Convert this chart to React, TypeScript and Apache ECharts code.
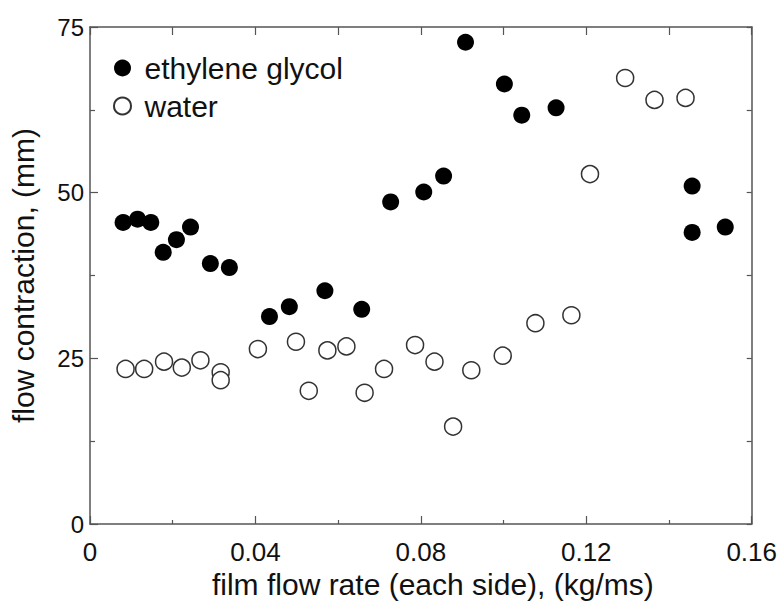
import React, { useEffect, useRef } from "react";
import * as echarts from "echarts";

const glycolX = [0.0080, 0.0115, 0.0147, 0.0177, 0.0209, 0.0243, 0.0291, 0.0337, 0.0434, 0.0482, 0.0568, 0.0657, 0.0727, 0.0807, 0.0855, 0.0908, 0.1002, 0.1044, 0.1127, 0.1456, 0.1456, 0.1536];
const glycolY = [45.5, 46.0, 45.5, 41.0, 42.9, 44.8, 39.3, 38.7, 31.3, 32.8, 35.2, 32.4, 48.6, 50.1, 52.5, 72.7, 66.4, 61.7, 62.8, 51.0, 44.0, 44.8];

const waterX = [0.0086, 0.0131, 0.0179, 0.0222, 0.0267, 0.0316, 0.0316, 0.0406, 0.0498, 0.0529, 0.0574, 0.0620, 0.0664, 0.0711, 0.0786, 0.0833, 0.0878, 0.0922, 0.0998, 0.1077, 0.1164, 0.1209, 0.1294, 0.1365, 0.1440];
const waterY = [23.4, 23.4, 24.5, 23.6, 24.7, 22.9, 21.7, 26.4, 27.5, 20.1, 26.2, 26.8, 19.8, 23.4, 27.0, 24.5, 14.7, 23.2, 25.4, 30.3, 31.5, 52.8, 67.3, 64.0, 64.3];

const xTickLabels = ["0", "0.04", "0.08", "0.12", "0.16"];
const yTickLabels = ["0", "25", "50", "75"];

const FONT = "'Liberation Sans', Arial, sans-serif";
const AXIS_COLOR = "#555";

export default function App() {
  const ref = useRef<HTMLDivElement>(null);
  useEffect(() => {
    if (!ref.current) return;
    const chart = echarts.init(ref.current, undefined, { renderer: "svg" });
    const fmtX = (v: number) => {
      const i = Math.round(v / 0.04);
      return Math.abs(v - i * 0.04) < 1e-9 ? xTickLabels[i] ?? "" : "";
    };
    const fmtY = (v: number) => {
      const i = Math.round(v / 25);
      return Math.abs(v - i * 25) < 1e-9 ? yTickLabels[i] ?? "" : "";
    };
    chart.setOption({
      animation: false,
      backgroundColor: "#fff",
      grid: { left: 89, right: 26, top: 27, bottom: 82 },
      legend: {
        orient: "vertical",
        left: 108,
        top: 48,
        itemWidth: 34,
        itemHeight: 17,
        itemGap: 8,
        data: ["ethylene glycol", "water"],
        textStyle: { fontFamily: FONT, fontSize: 30, color: "#111" },
      },
      xAxis: [
        {
          type: "value",
          min: 0,
          max: 0.16,
          interval: 0.04,
          position: "bottom",
          name: "film flow rate (each side), (kg/ms)",
          nameLocation: "middle",
          nameGap: 45,
          nameTextStyle: { fontFamily: FONT, fontSize: 30, color: "#111", padding: [0, 0, 0, 24] },
          axisLine: { show: true, onZero: false, lineStyle: { color: AXIS_COLOR, width: 1.5 } },
          axisTick: { show: true, inside: true, length: 8, lineStyle: { color: AXIS_COLOR, width: 1.2 } },
          minorTick: { show: true, splitNumber: 2, length: 4, lineStyle: { color: AXIS_COLOR, width: 1.2 } },
          splitLine: { show: false },
          axisLabel: { fontFamily: FONT, fontSize: 26, color: "#111", margin: 15, formatter: fmtX },
        },
        {
          type: "value",
          min: 0,
          max: 0.16,
          interval: 0.02,
          position: "top",
          axisLine: { show: true, onZero: false, lineStyle: { color: AXIS_COLOR, width: 1.5 } },
          axisTick: { show: true, inside: true, length: 8, lineStyle: { color: AXIS_COLOR, width: 1.2 } },
          splitLine: { show: false },
          axisLabel: { show: false },
        },
      ],
      yAxis: [
        {
          type: "value",
          min: 0,
          max: 75,
          interval: 25,
          position: "left",
          name: "flow contraction, (mm)",
          nameLocation: "middle",
          nameGap: 52,
          nameTextStyle: { fontFamily: FONT, fontSize: 30, color: "#111" },
          axisLine: { show: true, onZero: false, lineStyle: { color: AXIS_COLOR, width: 1.5 } },
          axisTick: { show: true, inside: true, length: 8, lineStyle: { color: AXIS_COLOR, width: 1.2 } },
          minorTick: { show: true, splitNumber: 2, length: 5, lineStyle: { color: AXIS_COLOR, width: 1.2 } },
          splitLine: { show: false },
          axisLabel: { fontFamily: FONT, fontSize: 24, color: "#111", margin: 6, formatter: fmtY },
        },
        {
          type: "value",
          min: 0,
          max: 75,
          interval: 12.5,
          position: "right",
          axisLine: { show: true, onZero: false, lineStyle: { color: AXIS_COLOR, width: 1.5 } },
          axisTick: { show: true, inside: true, length: 5, lineStyle: { color: AXIS_COLOR, width: 1.2 } },
          splitLine: { show: false },
          axisLabel: { show: false },
        },
      ],
      series: [
        {
          name: "ethylene glycol",
          type: "scatter",
          xAxisIndex: 0,
          yAxisIndex: 0,
          symbol: "circle",
          symbolSize: 17,
          itemStyle: { color: "#000", opacity: 1 },
          data: glycolX.map((x, i) => [x, glycolY[i]]),
        },
        {
          name: "water",
          type: "scatter",
          xAxisIndex: 0,
          yAxisIndex: 0,
          symbol: "circle",
          symbolSize: 17,
          itemStyle: { color: "#fff", borderColor: "#333", borderWidth: 1.5, opacity: 1 },
          data: waterX.map((x, i) => [x, waterY[i]]),
        },
      ],
    });
    return () => chart.dispose();
  }, []);
  return <div ref={ref} style={{ width: 780, height: 606, position: "absolute", left: 0, top: 0 }} />;
}
